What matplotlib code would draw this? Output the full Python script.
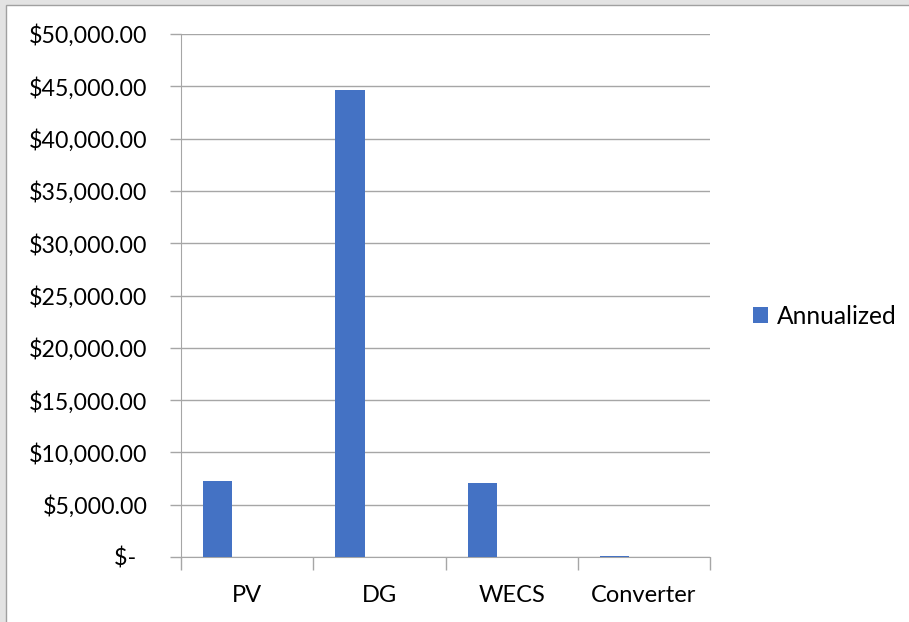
import matplotlib.pyplot as plt
from matplotlib.patches import Rectangle
from matplotlib.ticker import FuncFormatter, MultipleLocator
import numpy as np

categories = ['PV', 'DG', 'WECS', 'Converter']
annualized = [7230, 44680, 7080, 130]
series_name = 'Annualized'
y_max = 50000
y_step = 5000

bar_color = '#4472C4'
grid_color = '#a6a6a6'
text_color = '#000000'

plt.rcParams['font.family'] = ['Lato', 'DejaVu Sans']


def money(v, pos):
    if v == 0:
        return '$-  '
    return '${:,.2f}'.format(v)


fig = plt.figure(figsize=(9.09, 6.22), dpi=100)
fig.patches.append(Rectangle((0, 0), 1, 1, transform=fig.transFigure,
                             facecolor='#e3e3e3', edgecolor='none', zorder=-10))
fig.patches.append(Rectangle((6 / 909, -0.1), 1.0, (622 - 5) / 622 + 0.1,
                             transform=fig.transFigure, facecolor='white',
                             edgecolor='#a0a0a0', linewidth=1, zorder=-9))

ax = fig.add_axes([181 / 909, 65 / 622, (710 - 181) / 909, (557 - 34) / 622])
ax.set_facecolor('none')

x = np.arange(len(categories))
width = 1 / 4.5
ax.bar(x - 0.5 + 0.75 * width + width / 2, annualized, width=width,
       color=bar_color, label=series_name, zorder=3)

ax.set_xlim(-0.5, len(categories) - 0.5)
ax.set_ylim(0, y_max)
ax.yaxis.set_major_locator(MultipleLocator(y_step))
ax.yaxis.set_major_formatter(FuncFormatter(money))
ax.grid(axis='y', color=grid_color, linewidth=1, zorder=0)

for side in ['top', 'right']:
    ax.spines[side].set_visible(False)
ax.spines['left'].set_color(grid_color)
ax.spines['bottom'].set_color(grid_color)

ax.set_xticks(x)
ax.set_xticklabels(categories)
ax.set_xticks(np.arange(len(categories) + 1) - 0.5, minor=True)
ax.tick_params(axis='x', which='major', length=0, pad=20, labelsize=17,
               labelcolor=text_color)
ax.tick_params(axis='x', which='minor', length=9, color=grid_color, width=1)
ax.tick_params(axis='y', length=8, color=grid_color, width=1, pad=16,
               labelsize=16.7, labelcolor=text_color)

leg = fig.legend(loc='center left', bbox_to_anchor=(731 / 909, 1 - 316 / 622),
                 frameon=False, fontsize=17.7, handlelength=0.6, handleheight=0.6,
                 handletextpad=0.35)

fig.savefig('out.png', dpi=100)
